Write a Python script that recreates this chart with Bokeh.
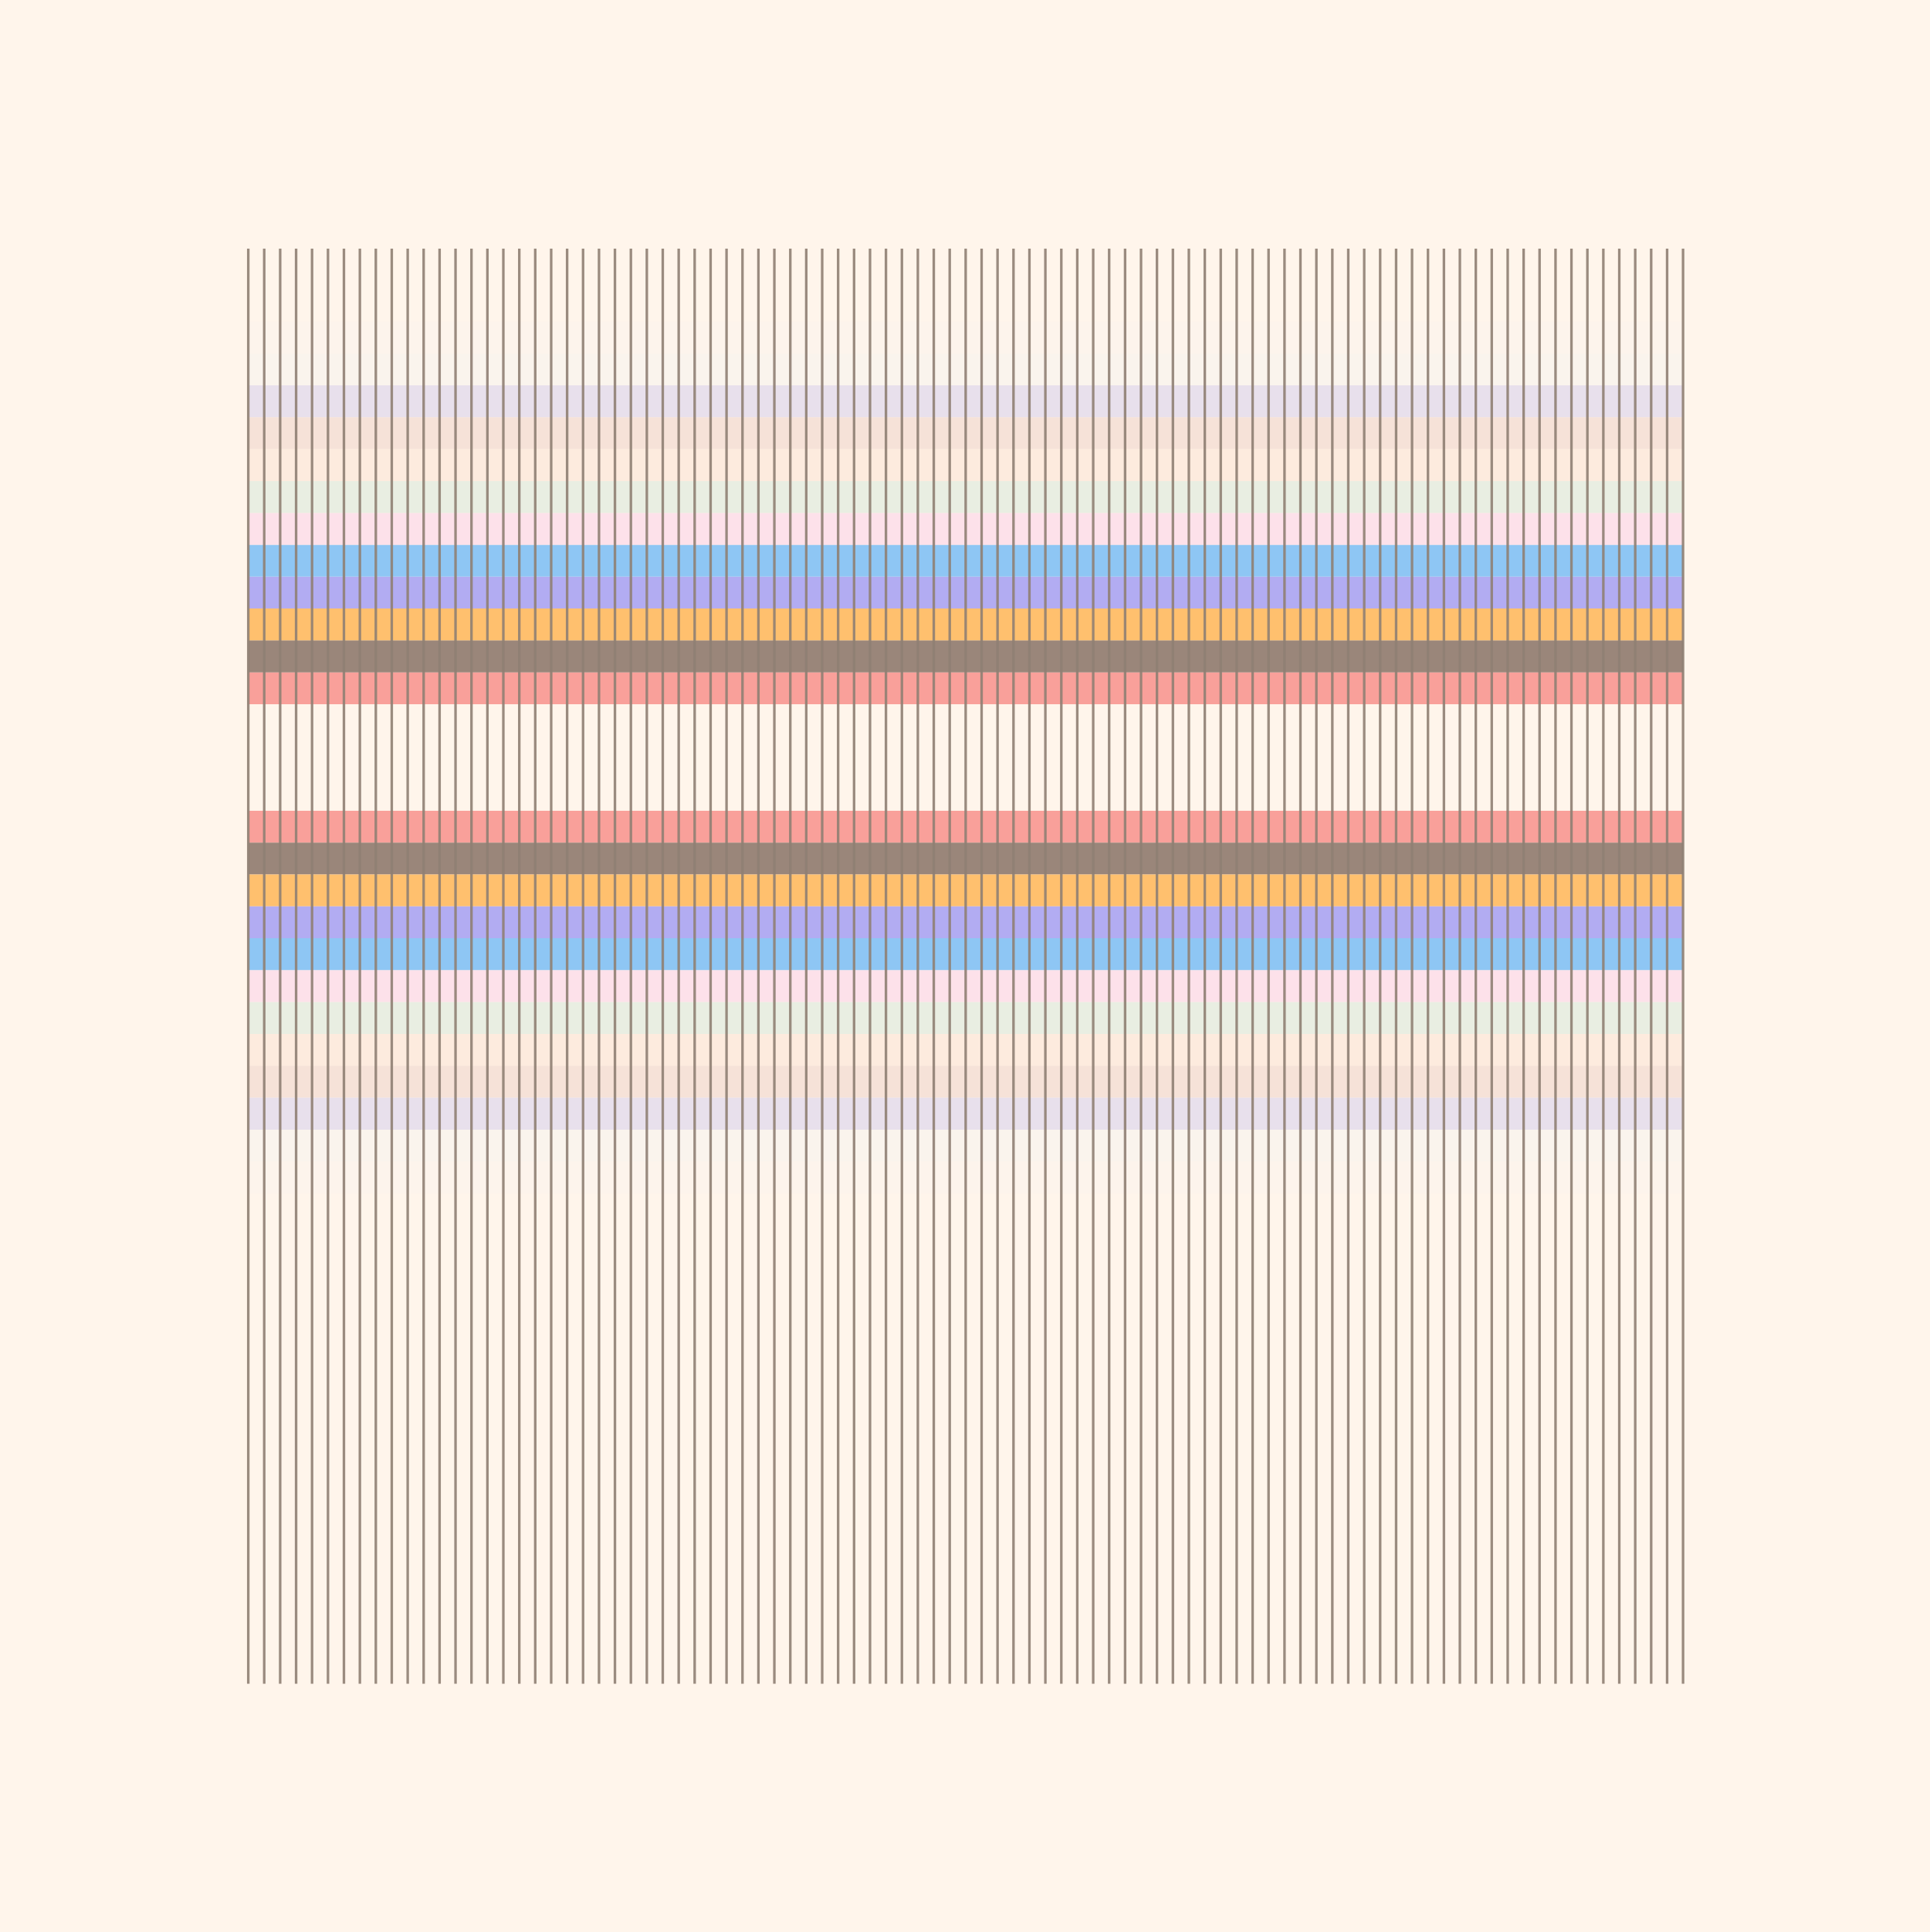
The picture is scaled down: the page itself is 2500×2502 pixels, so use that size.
from bokeh.plotting import figure
from bokeh.embed import file_html
from bokeh.resources import INLINE
from bokeh.models import ColumnDataSource

# ---- data ----
# vertical threads (warp), x positions
warp_x = [0, 1, 2, 3, 4, 5, 6, 7, 8, 9, 10, 11, 12, 13, 14, 15, 16, 17, 18, 19,
          20, 21, 22, 23, 24, 25, 26, 27, 28, 29, 30, 31, 32, 33, 34, 35, 36, 37, 38, 39,
          40, 41, 42, 43, 44, 45, 46, 47, 48, 49, 50, 51, 52, 53, 54, 55, 56, 57, 58, 59,
          60, 61, 62, 63, 64, 65, 66, 67, 68, 69, 70, 71, 72, 73, 74, 75, 76, 77, 78, 79,
          80, 81, 82, 83, 84, 85, 86, 87, 88, 89, 90]
warp_bottom = 0
warp_top = 90

# horizontal bands (weft), inner (next to the gap) to outer
band_colors = ["#f9a09a", "#9a867a", "#ffc06e", "#b2acf2", "#8ec6f4",
               "#fde1ea", "#e9eee2", "#fdebde", "#f6e2d8", "#e8e0ec",
               "#faf4ed", "#fdf4ec"]
upper_bottom = [61.43, 63.43, 65.43, 67.43, 69.43, 71.43, 73.43, 75.43, 77.43, 79.43, 81.43, 83.43]
upper_top = [63.43, 65.43, 67.43, 69.43, 71.43, 73.43, 75.43, 77.43, 79.43, 81.43, 83.43, 85.43]
lower_top = [54.75, 52.75, 50.75, 48.75, 46.75, 44.75, 42.75, 40.75, 38.75, 36.75, 34.75, 32.75]
lower_bottom = [52.75, 50.75, 48.75, 46.75, 44.75, 42.75, 40.75, 38.75, 36.75, 34.75, 32.75, 30.75]

BG = "#fff5eb"
THREAD = "#8f8073"

p = figure(width=2484, height=2486, output_backend="svg", toolbar_location=None,
           x_range=(-15.55, 104.74), y_range=(-14.82, 105.57),
           min_border=0, min_border_left=0, min_border_right=0,
           min_border_top=0, min_border_bottom=0)
p.background_fill_color = BG
p.border_fill_color = BG
p.outline_line_color = None
p.axis.visible = False
p.grid.visible = False

bands = ColumnDataSource(dict(
    left=[warp_x[0]] * (len(upper_bottom) + len(lower_bottom)),
    right=[warp_x[-1]] * (len(upper_bottom) + len(lower_bottom)),
    bottom=upper_bottom + lower_bottom,
    top=upper_top + lower_top,
    color=band_colors + band_colors,
))
p.quad(left="left", right="right", bottom="bottom", top="top",
       fill_color="color", line_color=None, source=bands)

threads = ColumnDataSource(dict(
    x0=warp_x, x1=warp_x,
    y0=[warp_bottom] * len(warp_x), y1=[warp_top] * len(warp_x),
))
p.segment(x0="x0", y0="y0", x1="x1", y1="y1", source=threads,
          line_color=THREAD, line_alpha=0.9, line_width=3.3)

html = file_html(p, INLINE)
html = html.replace("<head>", "<head><style>html,body{background:%s;}</style>" % BG, 1)
open("out.html", "w").write(html)
